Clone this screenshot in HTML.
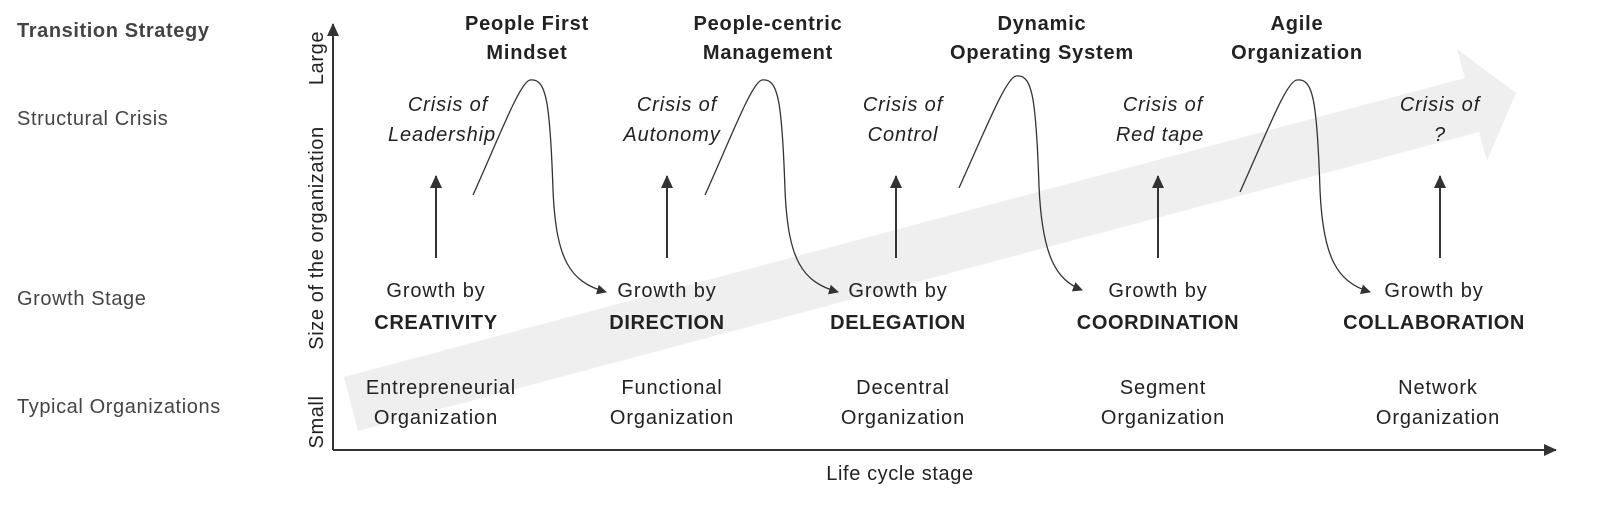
<!DOCTYPE html>
<html><head><meta charset="utf-8"><style>
html,body{margin:0;padding:0;background:#fff}
svg{display:block}
text{font-family:"Liberation Sans",sans-serif;fill:#222}
.n{letter-spacing:0.9px}
.b{letter-spacing:0.6px}
</style></head><body>
<svg width="1600" height="506" viewBox="0 0 1600 506">
<defs>
<marker id="ah" markerWidth="10" markerHeight="10" refX="9" refY="5" orient="auto" markerUnits="userSpaceOnUse"><path d="M0,0 L10,5 L0,10 z" fill="#333"/></marker>
<marker id="ah2" markerWidth="14" markerHeight="14" refX="12" refY="7" orient="auto" markerUnits="userSpaceOnUse"><path d="M0,1 L13,7 L0,13 z" fill="#333"/></marker>
</defs>
<!-- big arrow -->
<polygon points="344,377 1465,78 1457,49 1516,93 1487,161 1479,132 358,431" fill="#efefef"/>
<!-- axes -->
<line x1="333" y1="450" x2="333" y2="24" stroke="#333" stroke-width="2" marker-end="url(#ah2)"/>
<line x1="333" y1="450" x2="1556" y2="450" stroke="#333" stroke-width="2" marker-end="url(#ah2)"/>
<!-- left labels -->
<g font-size="20" class="b">
<text x="17" y="37" font-weight="bold" style="fill:#444">Transition Strategy</text>
<text x="17" y="125" style="fill:#444">Structural Crisis</text>
<text x="17" y="305" style="fill:#444">Growth Stage</text>
<text x="17" y="413" style="fill:#444">Typical Organizations</text>
</g>
<!-- axis labels -->
<g font-size="20" class="b">
<text transform="translate(323,58) rotate(-90)" text-anchor="middle">Large</text>
<text transform="translate(323,238) rotate(-90)" text-anchor="middle">Size of the organization</text>
<text transform="translate(323,422) rotate(-90)" text-anchor="middle">Small</text>
<text x="900" y="480" text-anchor="middle">Life cycle stage</text>
</g>
<!-- headers -->
<g font-size="20" font-weight="bold" text-anchor="middle" style="letter-spacing:0.8px">
<text x="527" y="30">People First</text><text x="527" y="59">Mindset</text>
<text x="768" y="30">People-centric</text><text x="768" y="59">Management</text>
<text x="1042" y="30">Dynamic</text><text x="1042" y="59">Operating System</text>
<text x="1297" y="30">Agile</text><text x="1297" y="59">Organization</text>
</g>
<!-- crisis -->
<g font-size="20" font-style="italic" text-anchor="middle" class="n">
<text x="448" y="111">Crisis of</text><text x="442" y="141">Leadership</text>
<text x="677" y="111">Crisis of</text><text x="672" y="141">Autonomy</text>
<text x="903" y="111">Crisis of</text><text x="903" y="141">Control</text>
<text x="1163" y="111">Crisis of</text><text x="1160" y="141">Red tape</text>
<text x="1440" y="111">Crisis of</text><text x="1440" y="141">?</text>
</g>
<!-- vertical arrows -->
<g stroke="#333" stroke-width="2">
<line x1="436" y1="258" x2="436" y2="176" marker-end="url(#ah2)"/>
<line x1="667" y1="258" x2="667" y2="176" marker-end="url(#ah2)"/>
<line x1="896" y1="258" x2="896" y2="176" marker-end="url(#ah2)"/>
<line x1="1158" y1="258" x2="1158" y2="176" marker-end="url(#ah2)"/>
<line x1="1440" y1="258" x2="1440" y2="176" marker-end="url(#ah2)"/>
</g>
<!-- S curves -->
<g fill="none" stroke="#333" stroke-width="1.3">
<path d="M473,195 C500,135 520,82 530,80 C546,78 550,100 553,190 C556,260 570,282 606,292" marker-end="url(#ah)"/>
<path d="M705,195 C732,135 752,82 762,80 C778,78 782,100 785,190 C788,260 802,282 838,292" marker-end="url(#ah)"/>
<path d="M959,188 C986,128 1006,78 1016,76 C1032,74 1036,96 1039,186 C1042,256 1056,280 1082,290" marker-end="url(#ah)"/>
<path d="M1240,192 C1267,132 1287,80 1297,80 C1313,78 1317,100 1320,190 C1323,258 1337,282 1370,292" marker-end="url(#ah)"/>
</g>
<!-- growth -->
<g font-size="20" text-anchor="middle">
<g class="n">
<text x="436" y="297">Growth by</text>
<text x="667" y="297">Growth by</text>
<text x="898" y="297">Growth by</text>
<text x="1158" y="297">Growth by</text>
<text x="1434" y="297">Growth by</text>
</g>
<g font-weight="bold" class="b">
<text x="436" y="329">CREATIVITY</text>
<text x="667" y="329">DIRECTION</text>
<text x="898" y="329">DELEGATION</text>
<text x="1158" y="329">COORDINATION</text>
<text x="1434" y="329">COLLABORATION</text>
</g>
</g>
<!-- orgs -->
<g font-size="20" text-anchor="middle" class="n">
<text x="441" y="394">Entrepreneurial</text><text x="436" y="424">Organization</text>
<text x="672" y="394">Functional</text><text x="672" y="424">Organization</text>
<text x="903" y="394">Decentral</text><text x="903" y="424">Organization</text>
<text x="1163" y="394">Segment</text><text x="1163" y="424">Organization</text>
<text x="1438" y="394">Network</text><text x="1438" y="424">Organization</text>
</g>
</svg>
</body></html>
